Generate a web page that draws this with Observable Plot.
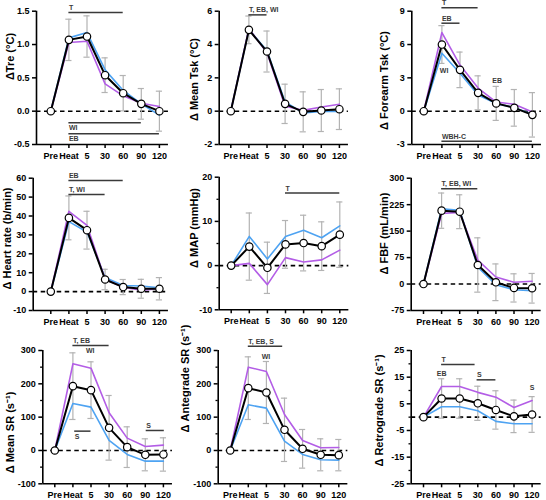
<!DOCTYPE html>
<html><head><meta charset="utf-8">
<script src="https://cdn.jsdelivr.net/npm/d3@7"></script>
<script src="https://cdn.jsdelivr.net/npm/@observablehq/plot@0.6"></script>
<style>
body{margin:0;background:#fff}
#chart{position:relative;width:546px;height:500px;background:#fff}
#chart svg{position:absolute;left:0;top:0}
</style></head><body><div id="chart"></div>
<script>
const xLabels = ["Pre","Heat","5","30","60","90","120"];

// Panel 1: ΔTre
const treMean   = [0, 1.07, 1.12, 0.54, 0.27, 0.11, 0.00];
const treSD     = [0, 0.31, 0.31, 0.26, 0.265, 0.23, 0.30];
const treBlue   = [0, 1.10, 1.18, 0.62, 0.31, 0.11, -0.06];
const treViolet = [0, 1.03, 1.05, 0.41, 0.23, 0.12, 0.07];
const treTicks  = [-0.5, 0, 0.5, 1.0, 1.5];
const treBars   = [{from:1,to:4,y:1.48,text:"T",side:"above"},{from:1,to:5,y:-0.175,text:"WI",side:"below"},{from:1,to:6,y:-0.34,text:"EB",side:"below"}];
const treNotes  = [];

// Panel 2: Δ Mean Tsk
const tskMean   = [0, 4.88, 3.58, 0.44, -0.04, 0.04, 0.12];
const tskSD     = [0, 0.83, 1.23, 1.18, 1.20, 1.26, 1.22];
const tskBlue   = [0, 4.90, 3.62, 0.55, -0.10, -0.02, -0.02];
const tskViolet = [0, 4.95, 3.50, 0.30, 0.05, 0.25, 0.42];
const tskTicks  = [-2, 0, 2, 4, 6];
const tskBars   = [{from:1,to:2,y:5.78,text:"T, EB, WI",side:"above"}];
const tskNotes  = [];

// Panel 3: Δ Forearm Tsk
const ftMean   = [0, 6.0, 3.72, 1.65, 0.70, 0.30, -0.33];
const ftSD     = [0, 1.70, 1.60, 1.53, 1.53, 1.65, 2.0];
const ftBlue   = [0, 5.22, 3.42, 1.45, 0.68, 0.32, -0.30];
const ftViolet = [0, 7.08, 4.15, 2.08, 0.82, 0.62, -0.08];
const ftTicks  = [-3, 0, 3, 6, 9];
const ftBars   = [{from:1,to:3,y:9.3,text:"T",side:"above"},{from:1,to:2,y:7.92,text:"EB",side:"above"},{from:1,to:6,y:-2.7,text:"WBH-C",side:"above"}];
const ftNotes  = [{x:1.12,y:3.63,text:"WI"},{x:4.05,y:2.76,text:"EB"}];

// Panel 4: Δ Heart rate
const hrMean   = [0, 39, 32.5, 6.4, 2.4, 1.5, 1.5];
const hrSD     = [0, 11.6, 10, 5.4, 4, 5, 5.9];
const hrBlue   = [0, 37, 31.5, 7.5, 3.2, 3, 2];
const hrViolet = [0, 42.5, 35, 6.5, 2.3, 0.8, 1.5];
const hrTicks  = [-10, 0, 10, 20, 30, 40, 50, 60];
const hrBars   = [{from:1,to:4,y:58.8,text:"EB",side:"above"},{from:1,to:3,y:51.4,text:"T, WI",side:"above"}];
const hrNotes  = [];

// Panel 5: Δ MAP
const mapMean   = [0, 4.3, -0.5, 4.8, 5.1, 4.4, 7.0];
const mapSD     = [0, 7.6, 5.8, 5.4, 6.3, 5.5, 7.4];
const mapBlue   = [0, 6.6, 1.5, 6.6, 8.0, 6.3, 9.0];
const mapViolet = [0, 0.5, -4.3, 1.8, 0.8, 1.3, 3.5];
const mapTicks  = [-10, 0, 10, 20];
const mapMinor  = [-5, 5, 15];
const mapBars   = [{from:3,to:6,y:16.4,text:"T",side:"above"}];
const mapNotes  = [];

// Panel 6: Δ FBF
const fbfMean   = [0, 208, 205, 54, 5, -11, -12];
const fbfSD     = [0, 50, 48, 77, 52, 40, 42];
const fbfBlue   = [0, 213, 209, 48, -2, -16, -19];
const fbfViolet = [0, 200, 203, 68, 20, 5, 8];
const fbfTicks  = [-75, 0, 75, 150, 225, 300];
const fbfBars   = [{from:1,to:3,y:270,text:"T, EB, WI",side:"above"}];
const fbfNotes  = [];

// Panel 7: Δ Mean SR
const msrMean   = [0, 193, 181, 68, 10, -13, -12];
const msrSD     = [0, 100, 85, 97, 61, 48, 50];
const msrBlue   = [0, 141, 130, 30, -12, -32, -32];
const msrViolet = [0, 260, 247, 113, 37, 12, 16];
const srTicks   = [-100, 0, 100, 200, 300];
const srMinor   = [-50, 50, 150, 250];
const msrBars   = [{from:1,to:3,y:315,text:"T, EB",side:"above"},{from:1.1,to:2,y:58,text:"S",side:"below"},{from:5.05,to:6.05,y:60,text:"S",side:"above"}];
const msrNotes  = [{x:1.96,y:299,text:"WI"}];

// Panel 8: Δ Antegrade SR
const asrMean   = [0, 187, 174, 62, 5, -13, -14];
const asrSD     = [0, 94, 93, 95, 58, 48, 47];
const asrBlue   = [0, 137, 127, 28, -12, -28, -29];
const asrViolet = [0, 250, 237, 108, 30, 8, 9];
const asrBars   = [{from:1,to:2.9,y:313,text:"T, EB, S",side:"above"}];
const asrNotes  = [{x:1.98,y:281,text:"WI"}];

// Panel 9: Δ Retrograde SR
const rsrMean   = [0, 7.0, 7.0, 5.2, 2.7, 0.3, 1.0];
const rsrSD     = [0, 7.4, 7.4, 6.4, 7.2, 6.1, 6.7];
const rsrBlue   = [0, 3.9, 3.9, 2.4, -1.6, -2.5, -2.5];
const rsrViolet = [0, 11.5, 11.5, 9.3, 7.5, 3.6, 6.2];
const rsrTicks  = [-25, -15, -5, 5, 15, 25];
const rsrMinor  = [-20, -10, 0, 10, 20];
const rsrBars   = [{from:1,to:2.85,y:19.75,text:"T",side:"above"},{from:2.96,to:4,y:14,text:"S",side:"above"}];
const rsrNotes  = [{x:1,y:16.26,text:"EB"},{x:6,y:10.9,text:"S"}];

const fmt1 = d => d.toFixed(1).replace("\u2212","-");
const fmt0 = d => String(d);

const panels = [
  {label:"ΔTre (°C)", labelY:0.82, mean:treMean, sd:treSD, blue:treBlue, violet:treViolet, ticks:treTicks, minor:[], fmt:fmt1, bars:treBars, notes:treNotes,
   layout:{axisX:36, preX:50.3, top:10.7, bottom:144, labelDx:26}},
  {label:"Δ Mean Tsk (°C)", labelY:1.9, mean:tskMean, sd:tskSD, blue:tskBlue, violet:tskViolet, ticks:tskTicks, minor:[], fmt:fmt0, bars:tskBars, notes:tskNotes,
   layout:{axisX:218.7, preX:230.3, top:10.7, bottom:144, labelDx:25}},
  {label:"Δ Forearm Tsk (°C)", labelY:2.76, mean:ftMean, sd:ftSD, blue:ftBlue, violet:ftViolet, ticks:ftTicks, minor:[], fmt:fmt0, bars:ftBars, notes:ftNotes,
   layout:{axisX:411.3, preX:423.3, top:10.7, bottom:144, labelDx:27.3}},
  {label:"Δ Heart rate (b/min)", labelY:28.1, mean:hrMean, sd:hrSD, blue:hrBlue, violet:hrViolet, ticks:hrTicks, minor:[], fmt:fmt0, bars:hrBars, notes:hrNotes,
   layout:{axisX:32.7, preX:50.3, top:177.7, bottom:310, labelDx:25.4}},
  {label:"Δ MAP (mmHg)", labelY:8.5, mean:mapMean, sd:mapSD, blue:mapBlue, violet:mapViolet, ticks:mapTicks, minor:mapMinor, fmt:fmt0, bars:mapBars, notes:mapNotes,
   layout:{axisX:218.7, preX:230.7, top:176.7, bottom:309.3, labelDx:25}},
  {label:"Δ FBF (mL/min)", labelY:143, mean:fbfMean, sd:fbfSD, blue:fbfBlue, violet:fbfViolet, ticks:fbfTicks, minor:[], fmt:fmt0, bars:fbfBars, notes:fbfNotes,
   layout:{axisX:410.7, preX:423, top:177.7, bottom:310, labelDx:26.7}},
  {label:"Δ Mean SR (s⁻¹)", labelY:54, mean:msrMean, sd:msrSD, blue:msrBlue, violet:msrViolet, ticks:srTicks, minor:srMinor, fmt:fmt0, bars:msrBars, notes:msrNotes,
   layout:{axisX:42.3, preX:54.3, top:350, bottom:483.3, labelDx:32.3}},
  {label:"Δ Antegrade SR (s⁻¹)", labelY:216, mean:asrMean, sd:asrSD, blue:asrBlue, violet:asrViolet, ticks:srTicks, minor:srMinor, fmt:fmt0, bars:asrBars, notes:asrNotes,
   layout:{axisX:217.7, preX:229.7, top:350, bottom:483.3, labelDx:32.7}},
  {label:"Δ Retrograde SR (s⁻¹)", labelY:2.5, mean:rsrMean, sd:rsrSD, blue:rsrBlue, violet:rsrViolet, ticks:rsrTicks, minor:rsrMinor, fmt:fmt0, bars:rsrBars, notes:rsrNotes,
   layout:{axisX:410.7, preX:423, top:350, bottom:483.3, labelDx:31.7}}
];

const STEP = 18.1, X_MAX = 6.5, CAP = 0.17;
const BLUE = "#4ea3f2", VIOLET = "#b35de6", GREY = "#b3b3b3", ANN = "#3a3a3a";
const FONT = "'Liberation Sans', Arial, Helvetica, sans-serif";

function makePanel(p) {
  const L = p.layout;
  const xMin = (L.axisX - L.preX) / STEP;
  const xEnd = L.preX + X_MAX * STEP;
  const idx = d3.range(xLabels.length);
  const yDom = d3.extent(p.ticks);
  const eb = idx.filter(i => p.sd[i] > 0);
  const caps = eb.flatMap(i => [{i, y: p.mean[i] + p.sd[i]}, {i, y: p.mean[i] - p.sd[i]}]);
  const above = p.bars.filter(b => b.side === "above");
  const below = p.bars.filter(b => b.side === "below");
  const marks = [
    Plot.ruleY([0], {stroke: "black", strokeWidth: 1.6, strokeDasharray: "4.5,3.5"}),
    Plot.ruleX(eb, {x: i => i, y1: i => p.mean[i] - p.sd[i], y2: i => p.mean[i] + p.sd[i], stroke: GREY, strokeWidth: 1.2}),
    Plot.ruleY(caps, {y: "y", x1: d => d.i - CAP, x2: d => d.i + CAP, stroke: GREY, strokeWidth: 1.2}),
    Plot.line(idx, {x: i => i, y: i => p.blue[i], stroke: BLUE, strokeWidth: 1.6}),
    Plot.line(idx, {x: i => i, y: i => p.violet[i], stroke: VIOLET, strokeWidth: 1.6}),
    Plot.line(idx, {x: i => i, y: i => p.mean[i], stroke: "black", strokeWidth: 2}),
    Plot.dot(idx, {x: i => i, y: i => p.mean[i], r: 3.7, fill: "white", stroke: "black", strokeWidth: 1.2}),
    // annotation bars
    Plot.ruleY(p.bars, {y: "y", x1: "from", x2: "to", stroke: ANN, strokeWidth: 1.5}),
    Plot.text(above, {x: "from", y: "y", text: "text", textAnchor: "start", lineAnchor: "bottom", dy: -2.5, fontSize: 7, fontWeight: "bold", fill: ANN}),
    Plot.text(below, {x: "from", y: "y", text: "text", textAnchor: "start", lineAnchor: "top", dy: 2.5, fontSize: 7, fontWeight: "bold", fill: ANN}),
    Plot.text(p.notes, {x: "x", y: "y", text: "text", textAnchor: "middle", lineAnchor: "middle", fontSize: 7, fontWeight: "bold", fill: ANN}),
    // axes
    Plot.ruleX([xMin], {stroke: "black", strokeWidth: 1.6}),
    Plot.ruleY([yDom[0]], {stroke: "black", strokeWidth: 1.6}),
    Plot.axisY(p.ticks, {anchor: "left", tickSize: 4, tickPadding: 3, strokeWidth: 1.5, tickFormat: p.fmt, fontSize: 9, fontWeight: "bold", label: null}),
    Plot.axisX(idx, {anchor: "bottom", tickSize: 4, tickPadding: 4, strokeWidth: 1.5, tickFormat: i => xLabels[i], fontSize: 9, fontWeight: "bold", label: null}),
    Plot.text([{t: p.label, y: p.labelY}], {y: "y", text: "t", frameAnchor: "left", rotate: -90, dx: -L.labelDx, textAnchor: "middle", lineAnchor: "middle", fontSize: 11, fontWeight: "bold", fill: "black"})
  ];
  if (p.minor.length) marks.push(Plot.axisY(p.minor, {anchor: "left", tickSize: 2.2, strokeWidth: 1.3, tickFormat: () => "", label: null}));
  return Plot.plot({
    width: 546, height: 500,
    marginLeft: L.axisX, marginRight: 546 - xEnd, marginTop: L.top, marginBottom: 500 - L.bottom,
    x: {type: "linear", domain: [xMin, X_MAX]},
    y: {type: "linear", domain: yDom},
    style: {background: "transparent", overflow: "visible", fontFamily: FONT, fontWeight: "bold", color: "black"},
    marks
  });
}

const root = document.getElementById("chart");
for (const p of panels) root.appendChild(makePanel(p));
</script>
</body></html>
